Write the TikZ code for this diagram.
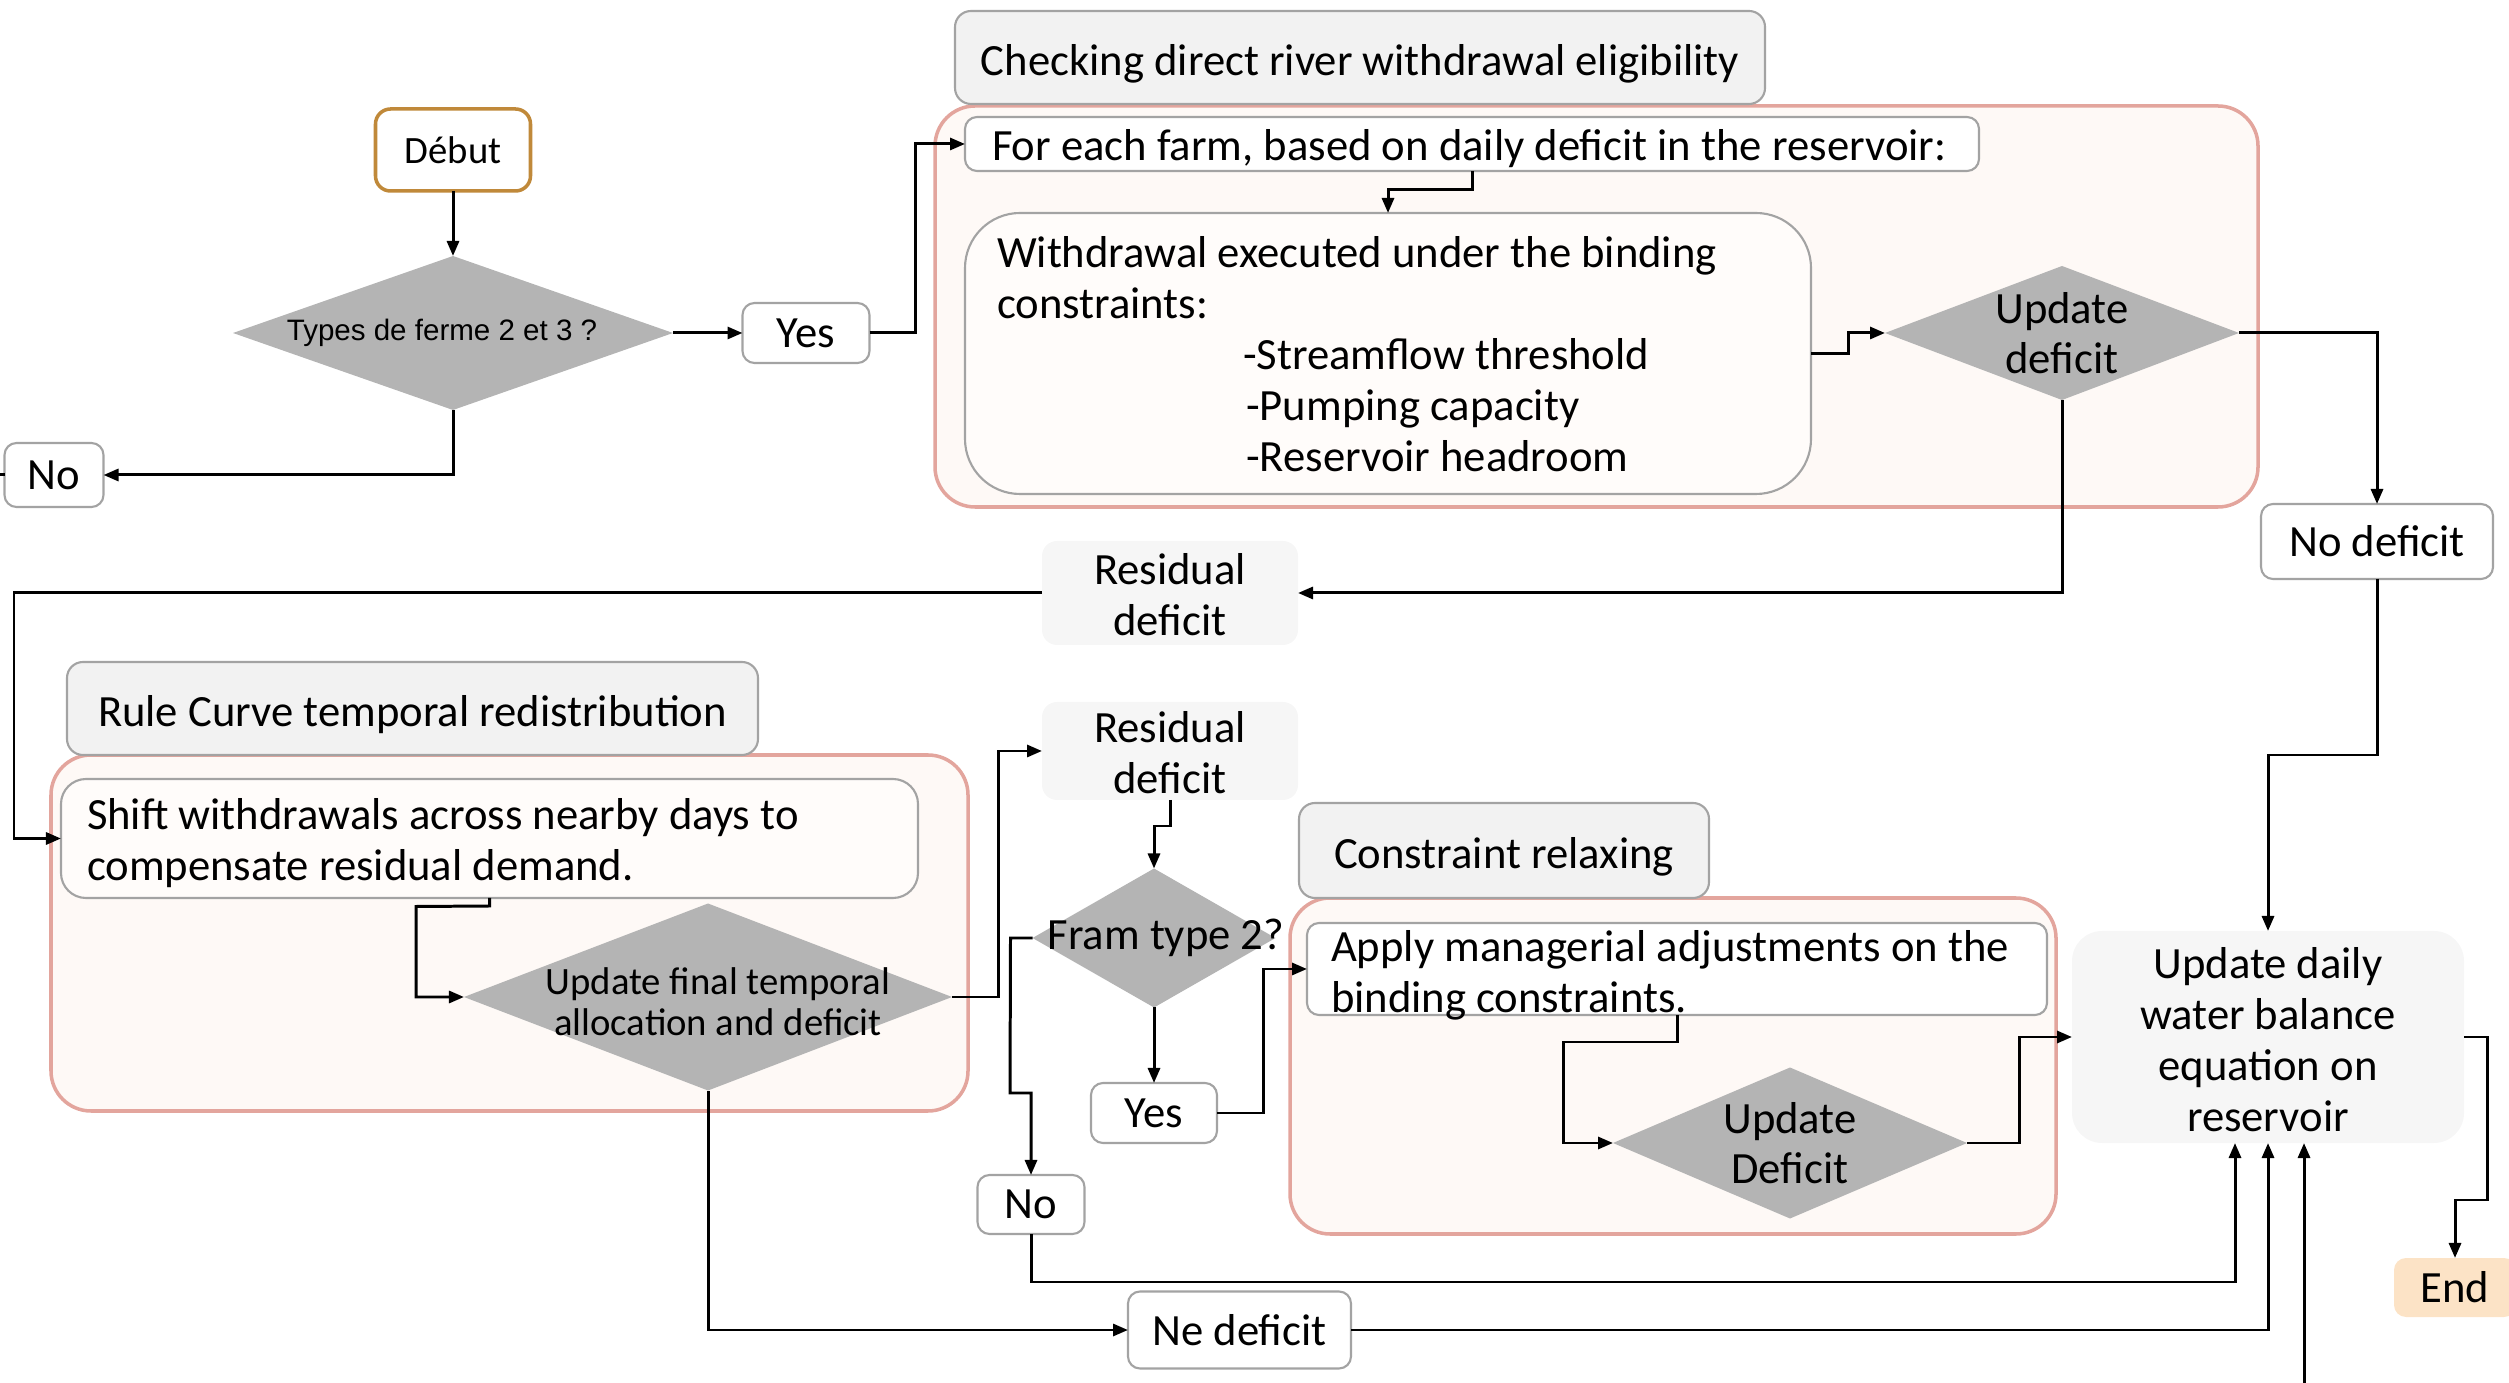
\documentclass[tikz,border=0pt]{standalone}
\usepackage{fontspec}
\setmainfont{Carlito}
\newfontfamily\arialf{Liberation Sans}
\usetikzlibrary{shapes.geometric,arrows.meta}
\definecolor{grpfill}{HTML}{FEF9F6}
\definecolor{grpline}{HTML}{E3A59D}
\definecolor{ttlfill}{HTML}{F2F2F2}
\definecolor{boxline}{HTML}{A3A3A3}
\definecolor{boxfill}{HTML}{FFFCFA}
\definecolor{dia}{HTML}{B4B4B4}
\definecolor{resfill}{HTML}{F6F6F6}
\definecolor{gold}{HTML}{C0893A}
\definecolor{endfill}{HTML}{FCE3C6}
\begin{document}
\begin{tikzpicture}[x=0.01cm,y=-0.01cm,
 every node/.style={font=\fontsize{12.7}{14.5}\selectfont, inner sep=0pt, outer sep=0pt},
 sz/.style 2 args={minimum width=#1*0.01cm, minimum height=#2*0.01cm},
 grp/.style={draw=grpline, fill=grpfill, line width=1pt, rounded corners=0.4cm},
 ttl/.style={draw=boxline, fill=ttlfill, line width=0.6pt, rounded corners=0.16cm},
 ttltext/.style={yshift=-0.065cm},
 sbox/.style={draw=boxline, fill=white, line width=0.6pt, rounded corners=0.12cm},
 lbox/.style={draw=boxline, fill=boxfill, line width=0.6pt, rounded corners=0.25cm},
 soft/.style={fill=resfill, rounded corners=0.15cm, align=center},
 dmd/.style={diamond, fill=dia},
 conn/.style={line width=0.85pt, -{Triangle[length=0.15cm, width=0.12cm]}},
 plainln/.style={line width=0.85pt}
]
\path[use as bounding box] (0,0) rectangle (2509,1383);
\clip (0,0) rectangle (2509,1383);

% groups and titles
\node[grp, sz={1323}{401}] (g1) at (1596.5,306.5) {};
\node[ttl, sz={810}{93}, label={[ttltext]center:Checking direct river withdrawal eligibility}] (t1) at (1360,57.5) {};
\node[grp, sz={917}{356}] (g2) at (509.5,933) {};
\node[ttl, sz={691}{93}, label={[ttltext]center:Rule Curve temporal redistribution}] (t2) at (412.5,708.5) {};
\node[grp, sz={766}{336}] (g3) at (1673,1066) {};
\node[ttl, sz={410}{95}, label={[ttltext]center:Constraint relaxing}] (t3) at (1504,850.5) {};

% start
\node[draw=gold, line width=1pt, fill=white, rounded corners=0.15cm, sz={155}{82}, font=\fontsize{11}{13}\selectfont] (debut) at (453,150) {Début};
\node[dmd, sz={440}{154}, label={[font=\arialf\fontsize{8.4}{10}\selectfont, xshift=-0.11cm]center:Types de ferme 2 et 3 ?}] (q1) at (453,333) {};
\node[sbox, sz={127}{60}] (yes1) at (806,333) {Yes};
\node[sbox, sz={99}{64}] (no1) at (54,475) {No};
\coordinate (edgeL) at (0,475);

% block 1
\node[sbox, sz={1014}{54}, label={[anchor=west, xshift=0.27cm, yshift=-0.05cm]west:For each farm, based on daily deficit in the reservoir:}] (farm) at (1472,144) {};
\node[lbox, rounded corners=0.55cm, sz={846}{281}, label={[anchor=west, xshift=0.32cm, yshift=-0.01cm, align=left]west:Withdrawal executed under the binding\\constraints:\\\hspace*{2.46cm}-Streamflow threshold\\\hspace*{2.49cm}-Pumping capacity\\\hspace*{2.49cm}-Reservoir headroom}] (withdraw) at (1388,353.5) {};
\node[dmd, sz={354}{134}, label={[align=center, font=\fontsize{12.7}{14.1}\selectfont]center:Update\\deficit}] (upd1) at (2062,333) {};
\node[sbox, sz={232}{75}] (nodef) at (2377,541.5) {No deficit};
\node[soft, sz={256}{104}, label={[align=center, yshift=-0.015cm]center:Residual\\deficit}] (res1) at (1170,593) {};

% block 2
\node[lbox, sz={857}{119}, label={[anchor=west, xshift=0.26cm, yshift=-0.05cm, align=left]west:Shift withdrawals across nearby days to\\compensate residual demand.}] (shift) at (489.5,838.5) {};
\node[dmd, sz={488}{187}, label={[align=center, font=\fontsize{11}{11.6}\selectfont, xshift=0.1cm, yshift=-0.045cm]center:Update final temporal\\allocation and deficit}] (upd2) at (708,997) {};
\node[soft, sz={256}{98}, label={[align=center, yshift=-0.015cm]center:Residual\\deficit}] (res2) at (1170,751) {};

% block 3
\node[dmd, sz={243}{139}, label={[xshift=0.12cm]center:Fram type 2?}] (q2) at (1154,938) {};
\node[sbox, sz={126}{60}] (yes2) at (1154,1113) {Yes};
\node[sbox, sz={107}{59}] (no2) at (1031,1204.5) {No};
\node[sbox, sz={740}{92}, label={[anchor=west, xshift=0.24cm, yshift=-0.06cm, align=left]west:Apply managerial adjustments on the\\binding constraints.}] (apply) at (1677,969) {};
\node[dmd, sz={354}{151}, label={[align=center, font=\fontsize{12.7}{14.1}\selectfont]center:Update\\Deficit}] (upd3) at (1790,1143) {};

% end part
\node[soft, sz={392}{212}, rounded corners=0.3cm, label={[align=center, yshift=-0.03cm]center:Update daily\\water balance\\equation on\\reservoir}] (daily) at (2268,1037) {};
\node[fill=endfill, rounded corners=0.12cm, sz={122}{59}] (end) at (2455,1287.5) {End};
\node[sbox, sz={223}{77}] (nedef) at (1239.5,1330) {Ne deficit};
\coordinate (bot) at (2304,1383);

% connectors
\draw[conn] (debut.south) -- (q1.north);
\draw[conn] (q1.east) -- (yes1.west);
\draw[conn] (yes1.east) -- ++(46,0) |- (farm.west);
\draw[conn] (q1.south) |- (no1.east);
\draw[plainln] (no1.west) -- (edgeL);
\draw[conn] (farm.south) -- ++(0,19) -| (withdraw.north);
\draw[conn] (withdraw.east) -- ++(37,0) |- (upd1.west);
\draw[conn] (upd1.east) -| (nodef.north);
\draw[conn] (upd1.south) |- (res1.east);
\draw[conn] (res1.west) -- ++(-1028,0) |- (shift.west);
\draw[conn] (shift.south) -- ++(0,8) -- (416,906.5) |- (upd2.west);
\draw[conn] (upd2.east) -- ++(46,0) |- (res2.west);
\draw[conn] (res2.south) -- ++(0,26) -| (q2.north);
\draw[conn] (q2.south) -- (yes2.north);
\draw[conn] (yes2.east) -- ++(46,0) |- (apply.west);
\draw[conn] (q2.west) -- ++(-22,0) -- (1010,1093) -| (no2.north);
\draw[conn] (no2.south) -- ++(0,48) -| ([xshift=-0.33cm]daily.south);
\draw[conn] (apply.south) -- ++(0,27) -- (1563,1042) |- (upd3.west);
\draw[conn] (upd3.east) -- ++(52,0) |- (daily.west);
\draw[conn] (nodef.south) -- ++(0,176) -| (daily.north);
\draw[conn] (daily.east) -- ++(23,0) -- (2487,1200) -| (end.north);
\draw[conn] (upd2.south) |- (nedef.west);
\draw[conn] (nedef.east) -| (daily.south);
\draw[conn] (bot) -- (bot |- daily.south);
\end{tikzpicture}
\end{document}
